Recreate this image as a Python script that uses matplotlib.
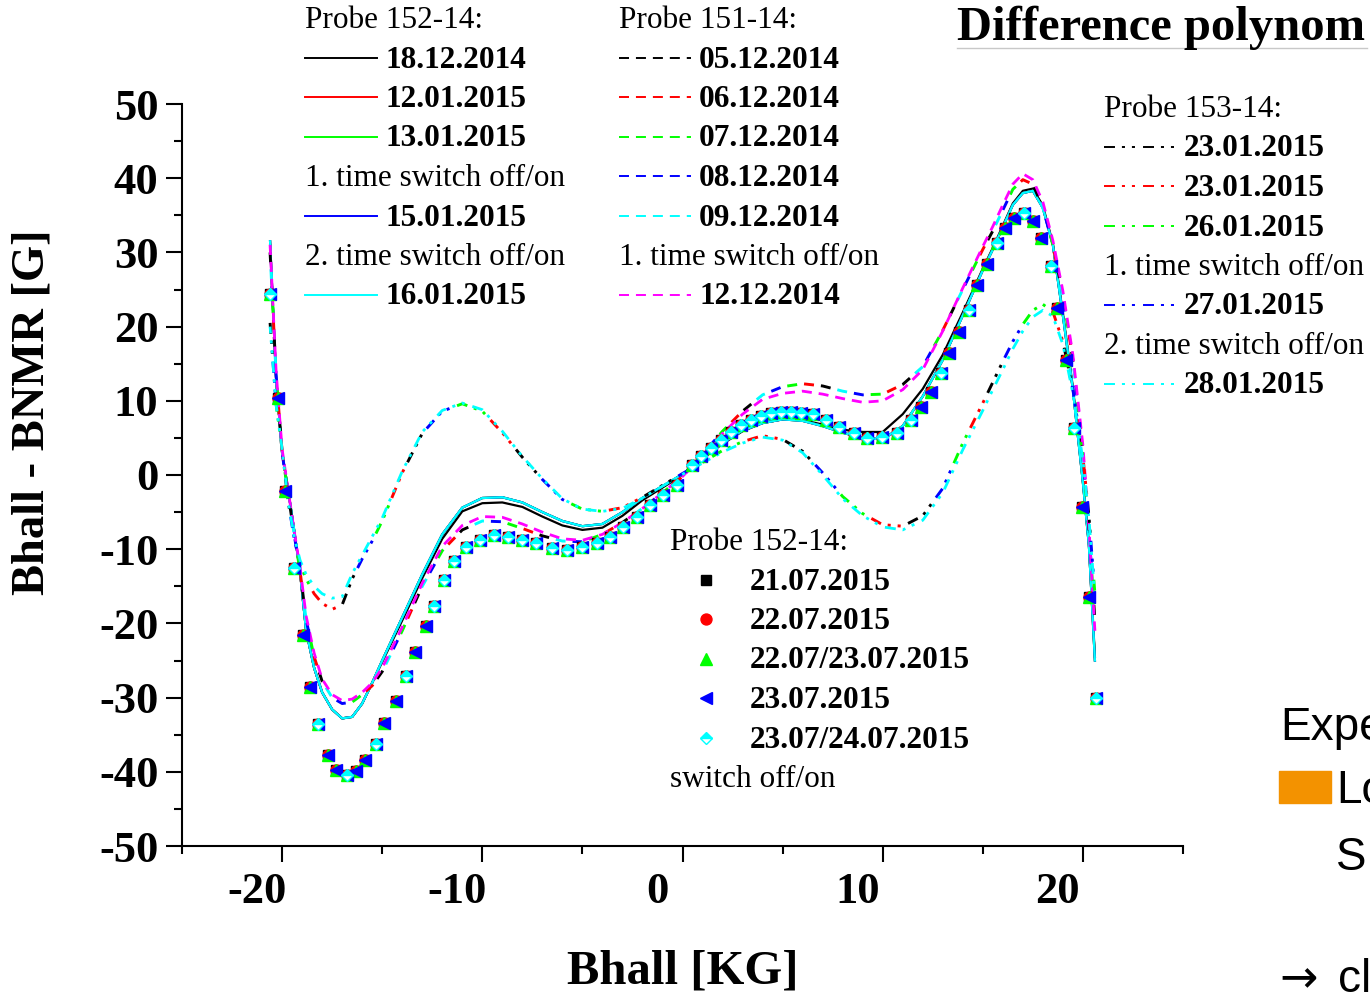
import matplotlib.pyplot as plt
from matplotlib.lines import Line2D
from matplotlib.patches import Rectangle
import matplotlib.transforms as mtransforms

plt.rcParams["axes.unicode_minus"] = False
plt.rcParams["lines.scale_dashes"] = False
plt.rcParams["font.family"] = ["Liberation Serif", "DejaVu Serif"]
SANS = ["Liberation Sans", "DejaVu Sans"]

# Hall field grid of the fitted difference polynomials [kG]
bhall = [-20.6, -20.3, -20.0, -19.7, -19.4, -19.1, -18.8, -18.4, -18.0, -17.5,
         -17.0, -16.5, -16.0, -15.5, -15.0, -14.0, -13.0, -12.0, -11.0, -10.0,
         -9.0, -8.0, -7.0, -6.0, -5.0, -4.0, -3.0, -2.0, -1.0, 0.0,
         1.0, 2.0, 3.0, 4.0, 5.0, 6.0, 7.0, 8.0, 9.0, 10.0,
         11.0, 12.0, 13.0, 14.0, 15.0, 15.5, 16.0, 16.5, 17.0, 17.5,
         18.0, 18.5, 19.0, 19.5, 20.0, 20.3, 20.6]

# Probe 152-14 (solid)
fit152_dec = [31.0, 13.0, 3.0, -2.0, -7.4, -13.2, -21.0, -26.0, -29.3, -31.6,
              -32.8, -32.6, -30.8, -28.0, -25.2, -19.6, -13.9, -8.6, -4.9, -3.8,
              -3.7, -4.3, -5.6, -6.8, -7.4, -7.1, -5.5, -3.4, -1.7, 0.0,
              2.2, 4.2, 5.9, 7.0, 7.5, 7.4, 6.8, 6.1, 5.8, 5.8,
              8.2, 11.6, 16.2, 21.9, 27.8, 30.6, 33.6, 36.6, 38.3, 38.6,
              36.3, 31.2, 21.8, 11.8, -0.8, -9.3, -24.5]
fit152_jan = [31.5, 13.0, 3.0, -2.0, -7.4, -13.2, -21.0, -26.0, -29.3, -31.6,
              -32.8, -32.6, -30.8, -28.0, -25.0, -19.2, -13.4, -8.0, -4.4, -3.1,
              -3.0, -3.7, -5.0, -6.2, -6.9, -6.6, -5.0, -3.1, -1.5, 0.1,
              2.3, 4.3, 6.0, 7.0, 7.5, 7.3, 6.6, 5.7, 5.0, 4.8,
              6.6, 10.6, 15.5, 21.5, 27.6, 30.4, 33.4, 36.4, 38.0, 38.3,
              36.0, 31.0, 21.5, 11.5, -1.0, -9.5, -25.0]

# Probe 151-14 (dashed)
fit151_dec = [30.0, 13.5, 3.0, -2.5, -8.0, -13.0, -19.5, -24.5, -27.8, -30.0,
              -30.8, -30.6, -29.6, -28.4, -26.5, -21.0, -15.0, -10.2, -7.4, -6.2,
              -6.3, -7.2, -8.2, -8.9, -9.0, -8.0, -6.4, -4.5, -2.4, -0.2,
              2.8, 5.9, 8.6, 10.8, 11.9, 12.3, 12.0, 11.3, 10.8, 10.9,
              12.2, 14.6, 19.5, 25.0, 30.4, 32.9, 35.7, 38.5, 39.8, 39.2,
              36.0, 31.0, 24.2, 15.5, 3.0, -7.5, -19.5]
fit151_sw = [31.0, 14.0, 3.5, -2.0, -7.5, -12.5, -19.0, -24.0, -27.5, -29.6,
             -30.4, -30.2, -29.3, -28.0, -26.0, -20.5, -14.6, -9.6, -6.8, -5.6,
             -5.7, -6.6, -7.7, -8.6, -8.8, -8.0, -6.4, -4.5, -2.4, -0.2,
             2.6, 5.6, 8.2, 10.2, 11.0, 11.3, 10.9, 10.3, 9.8, 10.0,
             11.5, 14.2, 19.4, 25.2, 30.8, 33.5, 36.4, 39.2, 40.6, 39.8,
             36.8, 31.6, 24.8, 16.2, 4.0, -7.0, -21.0]

# Probe 153-14 (dash-dot-dot)
fit153_jan = [20.5, 9.5, 3.5, -3.5, -8.5, -12.0, -14.0, -16.0, -17.3, -18.1,
              -17.5, -14.0, -11.3, -8.9, -6.2, 0.3, 5.6, 8.6, 9.6, 8.6,
              5.7, 2.4, -0.6, -3.3, -4.6, -4.9, -4.4, -3.0, -1.4, 0.2,
              1.7, 3.3, 4.5, 5.3, 4.8, 3.2, 0.3, -2.9, -5.2, -6.7,
              -6.9, -5.5, -1.8, 4.3, 9.7, 12.5, 15.3, 18.0, 20.3, 22.2,
              23.0, 22.0, 18.0, 11.5, 2.5, -5.5, -16.0]
fit153_sw2 = [20.0, 9.5, 3.5, -3.5, -8.3, -11.5, -13.4, -15.0, -16.0, -16.6,
              -16.4, -13.3, -10.8, -8.3, -5.8, 0.5, 5.8, 8.7, 9.7, 8.8,
              5.9, 2.5, -0.5, -3.2, -4.6, -4.9, -4.5, -3.1, -1.5, 0.1,
              1.6, 3.1, 4.3, 5.1, 4.7, 3.0, 0.0, -3.2, -5.5, -7.0,
              -7.4, -6.1, -2.4, 3.4, 8.7, 11.5, 14.2, 17.0, 19.4, 21.3,
              22.2, 21.4, 17.6, 11.0, 2.0, -5.8, -16.5]

# July 2015 measurements, probe 152-14
july_x = [-20.6, -20.2, -19.87, -19.4, -18.97, -18.6, -18.2, -17.7, -17.3, -16.75,
          -16.3, -15.85, -15.3, -14.9, -14.3, -13.8, -13.35, -12.8, -12.4, -11.9,
          -11.4, -10.8, -10.1, -9.4, -8.7, -8.0, -7.3, -6.5, -5.75, -5.0,
          -4.25, -3.6, -2.95, -2.25, -1.6, -0.95, -0.25, 0.45, 0.9, 1.4,
          1.9, 2.4, 2.9, 3.4, 3.9, 4.4, 4.9, 5.4, 5.9, 6.5,
          7.15, 7.8, 8.55, 9.2, 9.95, 10.7, 11.4, 11.9, 12.4, 12.9,
          13.3, 13.8, 14.3, 14.7, 15.2, 15.7, 16.1, 16.57, 17.07, 17.5,
          17.9, 18.4, 18.73, 19.15, 19.55, 19.98, 20.3, 20.65]
july_y = [24.4, 10.4, -2.1, -12.5, -21.6, -28.6, -33.6, -37.7, -39.7, -40.4,
          -39.9, -38.4, -36.3, -33.4, -30.5, -27.1, -23.8, -20.4, -17.6, -14.2,
          -11.6, -9.7, -8.8, -8.1, -8.3, -8.8, -9.2, -9.9, -10.1, -9.7,
          -9.2, -8.3, -7.0, -5.6, -4.0, -2.7, -1.3, 1.4, 2.5, 3.6,
          4.7, 5.8, 6.7, 7.4, 8.0, 8.3, 8.5, 8.5, 8.4, 8.2,
          7.4, 6.5, 5.6, 5.0, 5.1, 5.6, 7.4, 9.2, 11.2, 13.8,
          16.4, 19.3, 22.2, 25.6, 28.5, 31.2, 33.3, 34.6, 35.3, 34.2,
          31.9, 28.1, 22.5, 15.5, 6.4, -4.3, -16.4, -30.1]
# the 23.07/24.07 run was recorded on a coarser step at the ends
run_2324_idx = [0, 3, 6, 9, 12, 15, 18] + list(range(19, 57)) + [59, 62, 65, 68, 71, 74, 77]

x_ticks = [-20, -10, 0, 10, 20]
y_ticks = [-50, -40, -30, -20, -10, 0, 10, 20, 30, 40, 50]

GREEN = "#00ff00"
CYAN = "#00ffff"
MAGENTA = "#ff00ff"
DASH = (7.2, 5.0)
DASHDOTDOT = (7.9, 5.0, 2.2, 5.0, 2.2, 5.8)

probe152 = [("18.12.2014", "black", fit152_dec),
            ("12.01.2015", "red", fit152_jan),
            ("13.01.2015", GREEN, fit152_jan),
            ("15.01.2015", "blue", fit152_jan),
            ("16.01.2015", CYAN, fit152_jan)]
probe151 = [("05.12.2014", "black", fit151_dec),
            ("06.12.2014", "red", fit151_dec),
            ("07.12.2014", GREEN, fit151_dec),
            ("08.12.2014", "blue", fit151_dec),
            ("09.12.2014", CYAN, fit151_dec),
            ("12.12.2014", MAGENTA, fit151_sw)]
probe153 = [("23.01.2015", "black", fit153_jan),
            ("23.01.2015", "red", fit153_jan),
            ("26.01.2015", GREEN, fit153_jan),
            ("27.01.2015", "blue", fit153_jan),
            ("28.01.2015", CYAN, fit153_sw2)]

july_styles = {
    "21.07.2015": dict(marker="s", ms=7.2, color="black"),
    "22.07.2015": dict(marker="o", ms=7.9, color="red"),
    "22.07/23.07.2015": dict(marker="^", ms=8.6, color=GREEN),
    "23.07.2015": dict(marker="<", ms=8.6, color="blue"),
    "23.07/24.07.2015": dict(marker="D", ms=6.1, color=CYAN, fillstyle="top",
                             markerfacecoloralt="white", mew=1.0),
}


def interleaved(pattern, slot, nslots):
    # curves sharing one fit take turns in the dash sequence so every colour shows
    period = sum(pattern)
    pat = list(pattern)
    pat[-1] += period * (nslots - 1)
    return (slot * period, tuple(pat))


W, H = 1370, 993
fig = plt.figure(figsize=(W / 100, H / 100), dpi=100)
ax = fig.add_axes([182 / W, 1 - 846 / H, 1001 / W, 742 / H])


def fpos(x, y):
    return x / W, 1 - y / H


for lab, col, vals in probe152:
    ax.plot(bhall, vals, color=col, lw=1.6)

shared151 = [p for p in probe151 if p[2] is fit151_dec]
for k, (lab, col, vals) in enumerate(shared151):
    ax.plot(bhall, vals, color=col, lw=2.1, linestyle=interleaved(DASH, k, len(shared151)))
ax.plot(bhall, fit151_sw, color=MAGENTA, lw=2.0, linestyle=(0, DASH))

shared153 = [p for p in probe153 if p[2] is fit153_jan]
for k, (lab, col, vals) in enumerate(shared153):
    ax.plot(bhall, vals, color=col, lw=2.1, linestyle=interleaved(DASHDOTDOT, k, len(shared153)))
ax.plot(bhall, fit153_sw2, color=CYAN, lw=2.0, linestyle=(3, DASHDOTDOT))

for lab, st in july_styles.items():
    if lab == "23.07/24.07.2015":
        xs = [july_x[i] for i in run_2324_idx]
        ys = [july_y[i] for i in run_2324_idx]
    else:
        xs, ys = july_x, july_y
    ax.plot(xs, ys, linestyle="none", **st)

ax.set_xlim(-25, 25)
ax.set_ylim(-50, 50)
ax.set_xticks(x_ticks, [str(v) for v in x_ticks])
ax.set_yticks(y_ticks, [str(v) for v in y_ticks])
ax.set_xticks([-25, -15, -5, 5, 15, 25], minor=True)
ax.set_yticks([-45, -35, -25, -15, -5, 5, 15, 25, 35, 45], minor=True)
for s in ("top", "right"):
    ax.spines[s].set_visible(False)
for s in ("left", "bottom"):
    ax.spines[s].set_linewidth(1.5)
ax.tick_params(which="major", direction="out", length=11.5, width=1.5, labelsize=32)
ax.tick_params(which="minor", direction="out", length=6, width=1.5)
ax.tick_params(axis="y", pad=5.5)
ax.tick_params(axis="x", pad=7)
for lbl in ax.get_xticklabels() + ax.get_yticklabels():
    lbl.set_fontweight("bold")
shift = mtransforms.ScaledTranslation(-0.25, 0, fig.dpi_scale_trans)
for lbl in ax.get_xticklabels():
    lbl.set_transform(lbl.get_transform() + shift)

ax.set_xlabel("Bhall [KG]", fontsize=35, fontweight="bold", va="center")
ax.xaxis.set_label_coords(0.5, -0.169)
ax.set_ylabel("Bhall - BNMR [G]", fontsize=33.5, fontweight="bold", va="center")
ax.yaxis.set_label_coords(-0.149, 0.585)


# legend blocks drawn in figure pixels
def key_block(x0, y0, rows, marker_keys=False):
    for i, (text, key) in enumerate(rows):
        y = y0 + i * 39.5
        if key is None:
            fig.text(*fpos(x0, y + 10), text, fontsize=22.5, va="baseline")
            continue
        if marker_keys:
            fig.add_artist(Line2D([(x0 + 36) / W], [1 - y / H], linestyle="none", **key))
        else:
            col, ls = key
            fig.add_artist(Line2D([x0 / W, (x0 + 72) / W], [1 - y / H, 1 - y / H],
                                  color=col, lw=1.4, linestyle=ls))
        fig.text(*fpos(x0 + 80, y + 10), text, fontsize=22.5, fontweight="bold", va="baseline")


rows152 = [("Probe 152-14:", None)]
rows152 += [(lab, (col, "-")) for lab, col, _ in probe152[:3]]
rows152 += [("1. time switch off/on", None), (probe152[3][0], ("blue", "-")),
            ("2. time switch off/on", None), (probe152[4][0], (CYAN, "-"))]
key_block(305, 18, rows152)

rows151 = [("Probe 151-14:", None)]
rows151 += [(lab, (col, (0, DASH))) for lab, col, _ in probe151[:5]]
rows151 += [("1. time switch off/on", None), (probe151[5][0], (MAGENTA, (0, DASH)))]
key_block(619, 18, rows151)

rows153 = [("Probe 153-14:", None)]
rows153 += [(lab, (col, (0, DASHDOTDOT))) for lab, col, _ in probe153[:3]]
rows153 += [("1. time switch off/on", None), (probe153[3][0], ("blue", (0, DASHDOTDOT))),
            ("2. time switch off/on", None), (probe153[4][0], (CYAN, (0, DASHDOTDOT)))]
key_block(1104, 107, rows153)

rows_july = [("Probe 152-14:", None)]
rows_july += [(lab, st) for lab, st in july_styles.items()]
rows_july += [("switch off/on", None)]
key_block(670, 540, rows_july, marker_keys=True)

# slide heading and side notes
fig.text(*fpos(957, 40), "Difference polynom", fontsize=35, fontweight="bold", va="baseline")
fig.add_artist(Line2D([957 / W, 1367 / W], [1 - 48 / H, 1 - 48 / H], color="#c8c8c8", lw=1))
fig.text(*fpos(1280, 740), "Expe", fontsize=33, family=SANS, va="baseline")
fig.add_artist(Rectangle(fpos(1279, 803), 52 / W, 32 / H, color="#f39200"))
fig.text(*fpos(1336, 803), "Lo", fontsize=33, family=SANS, va="baseline")
fig.text(*fpos(1336, 870), "S", fontsize=33, family=SANS, va="baseline")
fig.text(*fpos(1279, 992), "\u2192", fontsize=33, family="DejaVu Sans", va="baseline")
fig.text(*fpos(1338, 992), "cl", fontsize=33, family=SANS, va="baseline")

fig.savefig("out.png", dpi=100)
